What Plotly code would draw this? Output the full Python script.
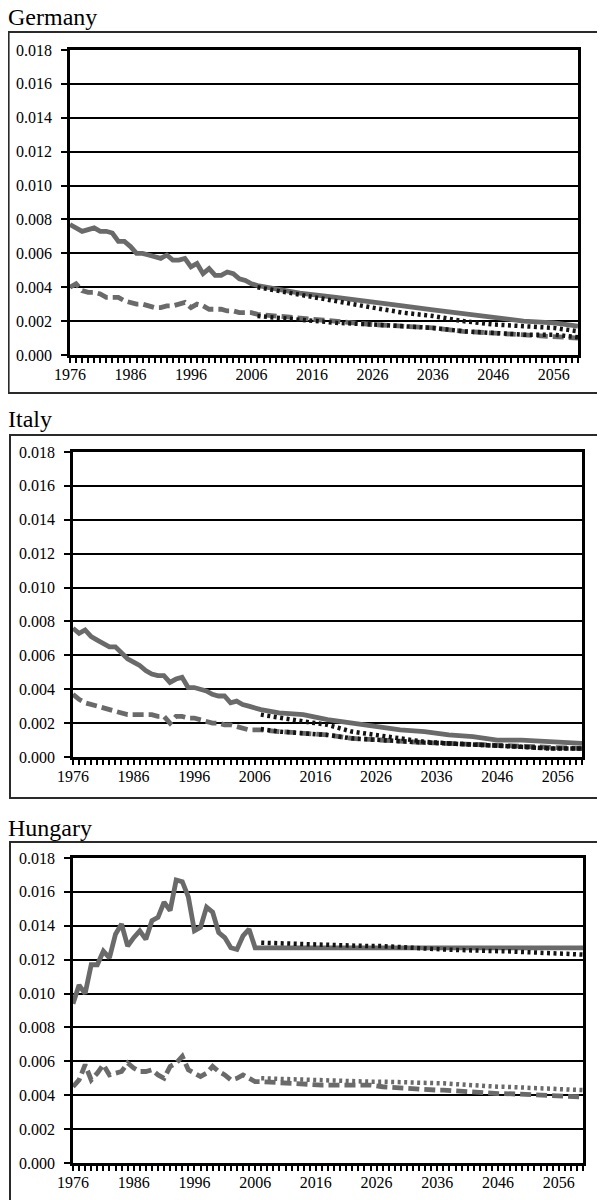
import plotly.graph_objects as go

# ---------------- data ----------------
hist_years = list(range(1976, 2008))
proj_years_de = [2007, 2010, 2014, 2020, 2026, 2031, 2036, 2041, 2046, 2051, 2056, 2060]

# Germany
de_solid_hist = [0.0077, 0.0075, 0.0073, 0.0074, 0.0075, 0.0073, 0.0073, 0.0072, 0.0067, 0.0067,
                 0.0064, 0.0060, 0.0060, 0.0059, 0.0058, 0.0057, 0.0059, 0.0056, 0.0056, 0.0057,
                 0.0052, 0.0054, 0.0048, 0.0051, 0.0047, 0.0047, 0.0049, 0.0048, 0.0045, 0.0044,
                 0.0042, 0.0041]
de_solid_proj = [0.0041, 0.0039, 0.00365, 0.0034, 0.00315, 0.0029, 0.00266, 0.00245, 0.0022, 0.0020, 0.0019, 0.0017]
de_dash_hist = [0.0040, 0.0042, 0.0038, 0.0037, 0.0037, 0.0036, 0.0034, 0.0034, 0.0034, 0.0032,
                0.0031, 0.0030, 0.0030, 0.0029, 0.0028, 0.0028, 0.0029, 0.0029, 0.0030, 0.0031,
                0.0028, 0.0030, 0.0029, 0.0027, 0.0027, 0.0027, 0.0026, 0.0026, 0.0025, 0.0025,
                0.0025, 0.0024]
de_dash_proj = [0.0024, 0.0023, 0.0022, 0.0020, 0.0018, 0.0017, 0.0016, 0.0014, 0.0013, 0.0012, 0.0011, 0.0010]
de_dot_upper = [0.0040, 0.0038, 0.00355, 0.0032, 0.0028, 0.0025, 0.0023, 0.0020, 0.0018, 0.0017, 0.0016, 0.0014]
de_dot_lower = [0.0023, 0.0022, 0.0021, 0.0019, 0.0018, 0.0017, 0.0016, 0.0014, 0.0013, 0.0012, 0.0012, 0.00105]

# Italy
proj_years_it = [2007, 2010, 2014, 2018, 2022, 2026, 2030, 2034, 2038, 2042, 2046, 2050, 2055, 2060]
it_solid_hist = [0.0076, 0.0073, 0.0075, 0.0071, 0.0069, 0.0067, 0.0065, 0.0065, 0.0061, 0.0058,
                 0.0056, 0.0054, 0.0051, 0.0049, 0.0048, 0.0048, 0.0044, 0.0046, 0.0047, 0.0041,
                 0.0041, 0.0040, 0.0039, 0.0037, 0.0036, 0.0036, 0.0032, 0.0033, 0.0031, 0.0030,
                 0.0029, 0.0028]
it_solid_proj = [0.0028, 0.0026, 0.0025, 0.0022, 0.0020, 0.0018, 0.0016, 0.0015, 0.0013, 0.0012, 0.0010, 0.0010, 0.0009, 0.0008]
it_dash_hist = [0.0037, 0.0034, 0.0032, 0.0031, 0.0030, 0.0029, 0.0028, 0.0027, 0.0026, 0.0025,
                0.0025, 0.0025, 0.0025, 0.0025, 0.0024, 0.0024, 0.0020, 0.0024, 0.0024, 0.0023,
                0.0023, 0.0022, 0.0021, 0.0020, 0.0020, 0.0019, 0.0019, 0.0018, 0.0017, 0.0016,
                0.0016, 0.0016]
it_dash_proj = [0.0016, 0.0015, 0.0014, 0.0013, 0.0011, 0.0010, 0.0009, 0.00085, 0.0008, 0.00075, 0.0007, 0.00065, 0.0006, 0.0005]
it_dot_upper = [0.0025, 0.0023, 0.0021, 0.0019, 0.0015, 0.0013, 0.0011, 0.0009, 0.0008, 0.00075, 0.0007, 0.0006, 0.0005, 0.0005]
it_dot_lower = [0.00165, 0.0015, 0.0014, 0.0013, 0.0011, 0.0010, 0.0009, 0.00085, 0.0008, 0.00075, 0.0007, 0.0006, 0.0005, 0.0005]

# Hungary
proj_years_hu = [2007, 2014, 2017, 2025, 2027, 2036, 2037, 2046, 2047, 2060]
hu_solid_hist = [0.0094, 0.0105, 0.0100, 0.0117, 0.0117, 0.0125, 0.0121, 0.0135, 0.0141, 0.0128,
                 0.0133, 0.0137, 0.0132, 0.0143, 0.0145, 0.0154, 0.0149, 0.0167, 0.0166, 0.0157,
                 0.0137, 0.0139, 0.0151, 0.0148, 0.0136, 0.0133, 0.0127, 0.0126, 0.0134, 0.0138,
                 0.0127, 0.0127]
hu_solid_proj = [0.0127, 0.0127, 0.0127, 0.0127, 0.0127, 0.0127, 0.0127, 0.0127, 0.0127, 0.0127]
hu_dash_hist = [0.0045, 0.0049, 0.0058, 0.0049, 0.0053, 0.0058, 0.0052, 0.0053, 0.0054, 0.0059,
                0.0056, 0.0054, 0.0054, 0.0055, 0.0052, 0.0050, 0.0057, 0.0059, 0.0063, 0.0055,
                0.0053, 0.0051, 0.0053, 0.0057, 0.0054, 0.0052, 0.0049, 0.0050, 0.0052, 0.0050,
                0.0048, 0.0048]
hu_dash_proj = [0.0048, 0.0047, 0.0046, 0.0046, 0.0045, 0.0043, 0.0043, 0.0041, 0.0041, 0.0039]
hu_dot_upper = [0.0130, 0.0129, 0.0129, 0.0128, 0.0128, 0.0126, 0.0126, 0.0125, 0.0125, 0.0123]
hu_dot_lower = [0.0050, 0.0049, 0.0049, 0.0048, 0.0048, 0.0047, 0.0047, 0.0045, 0.0045, 0.0043]

titles = ["Germany", "Italy", "Hungary"]
y_ticks = [0.000, 0.002, 0.004, 0.006, 0.008, 0.010, 0.012, 0.014, 0.016, 0.018]
x_tick_labels = [1976, 1986, 1996, 2006, 2016, 2026, 2036, 2046, 2056]

# ---------------- styling ----------------
W, H = 605, 1200
OFF = 8  # page body margin: figure pixel = screen pixel - OFF
GRAY = "#6a6a6a"
BLACK = "#141414"
FONT = "Liberation Serif"


def fx(p):
    return (p - OFF) / W


def fy(p):
    return 1 - (p - OFF) / H


panels = [
    dict(name=titles[0], px=(70, 578), py=(50, 355), box=(7, 32, 393), title_y=32,
         series=[(hist_years, de_solid_hist, proj_years_de, de_solid_proj),
                 (hist_years, de_dash_hist, proj_years_de, de_dash_proj)],
         dots=[(proj_years_de, de_dot_upper, BLACK), (proj_years_de, de_dot_lower, BLACK)]),
    dict(name=titles[1], px=(73, 582), py=(452, 757), box=(10, 435, 798), title_y=434,
         series=[(hist_years, it_solid_hist, proj_years_it, it_solid_proj),
                 (hist_years, it_dash_hist, proj_years_it, it_dash_proj)],
         dots=[(proj_years_it, it_dot_upper, BLACK), (proj_years_it, it_dot_lower, BLACK)]),
    dict(name=titles[2], px=(73, 583), py=(858, 1163), box=(10, 842, 1300), title_y=843,
         series=[(hist_years, hu_solid_hist, proj_years_hu, hu_solid_proj),
                 (hist_years, hu_dash_hist, proj_years_hu, hu_dash_proj)],
         dots=[(proj_years_hu, hu_dot_upper, BLACK), (proj_years_hu, hu_dot_lower, GRAY)]),
]

fig = go.Figure()
layout = dict(width=W, height=H, margin=dict(l=0, r=0, t=0, b=0, autoexpand=False),
              paper_bgcolor="white", plot_bgcolor="white", showlegend=False,
              font=dict(family=FONT, color="black"),
              shapes=[], annotations=[])

for i, p in enumerate(panels):
    sfx = "" if i == 0 else str(i + 1)
    xa, ya = "x" + sfx, "y" + sfx
    for j, (hx, hv, px_, pv) in enumerate(p["series"]):
        xs = hx + px_[1:]
        ys = hv + pv[1:]
        fig.add_trace(go.Scatter(
            x=xs, y=ys, mode="lines", xaxis=xa, yaxis=ya,
            line=dict(color=GRAY, width=4.8, dash="solid" if j == 0 else "11px,5px"),
            hoverinfo="skip"))
    for (dx, dv, col) in p["dots"]:
        fig.add_trace(go.Scatter(
            x=dx, y=dv, mode="lines", xaxis=xa, yaxis=ya,
            line=dict(color=col, width=4.5, dash="3px,3.5px"),
            hoverinfo="skip"))

    x0, x1 = p["px"]
    ytop, ybot = p["py"]
    layout["xaxis" + sfx] = dict(
        domain=[fx(x0), fx(x1)], anchor=ya, range=[1976, 2060], automargin=False,
        tickmode="array", tickvals=x_tick_labels, ticktext=[str(v) for v in x_tick_labels],
        ticks="outside", ticklen=5, tickwidth=1.5, tickcolor="black",
        minor=dict(tickmode="linear", tick0=1976, dtick=1, ticks="outside",
                   ticklen=5, tickwidth=1.5, tickcolor="black", showgrid=False),
        showline=True, linewidth=2.5, linecolor="black", mirror=True,
        showgrid=False, zeroline=False, ticklabelstandoff=-2,
        tickfont=dict(family=FONT, size=16, color="black"), fixedrange=True)
    layout["yaxis" + sfx] = dict(
        domain=[fy(ybot), fy(ytop)], anchor=xa, range=[0, 0.018], automargin=False,
        tickmode="array", tickvals=y_ticks, ticktext=["%.3f" % v for v in y_ticks],
        ticks="outside", ticklen=6, tickwidth=2, tickcolor="black",
        showline=True, linewidth=2.5, linecolor="black", mirror=True,
        showgrid=True, gridcolor="black", gridwidth=2.2, zeroline=False,
        ticklabelstandoff=6,
        tickfont=dict(family=FONT, size=16, color="black"), fixedrange=True)

    bx, btop, bbot = p["box"]
    layout["shapes"].append(dict(type="rect", xref="paper", yref="paper",
                                 x0=max(fx(bx), 0.001), x1=fx(640), y0=fy(bbot), y1=fy(btop),
                                 line=dict(color="#2a2a2a", width=2), fillcolor="rgba(0,0,0,0)",
                                 layer="below"))
    layout["annotations"].append(dict(text=p["name"], xref="paper", yref="paper",
                                      x=0, y=fy(p["title_y"]), xanchor="left", yanchor="bottom",
                                      xshift=-2,
                                      showarrow=False, font=dict(family=FONT, size=24, color="black")))

fig.update_layout(**layout)
fig.write_html("out.html")
